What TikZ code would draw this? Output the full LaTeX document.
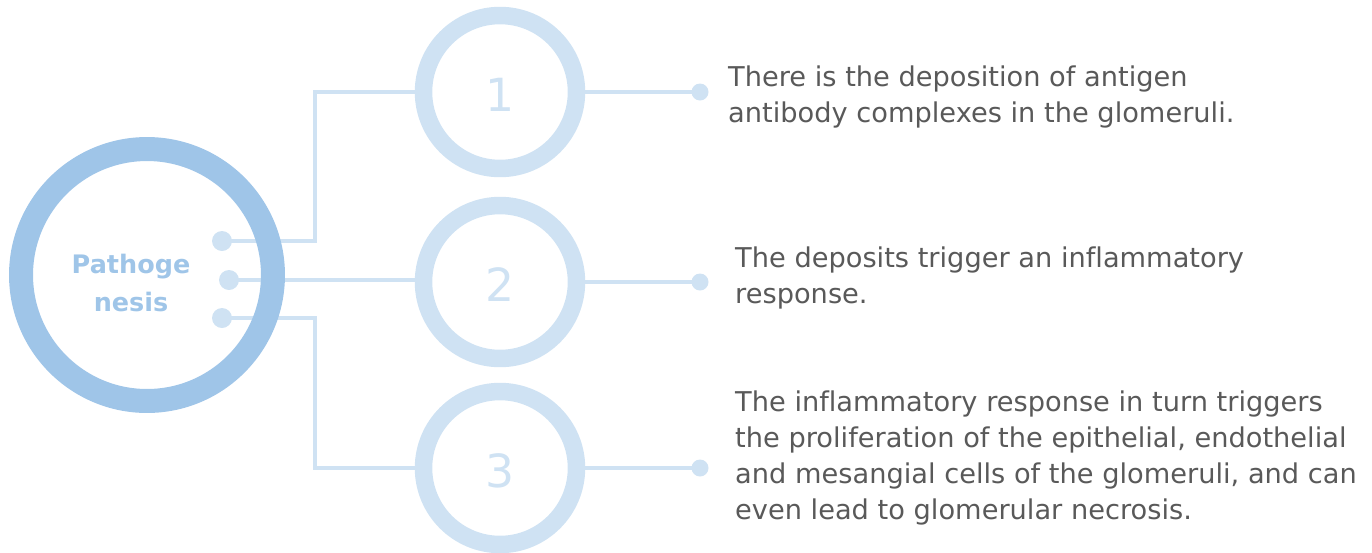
\documentclass[tikz,border=0pt]{standalone}
\usepackage{fontspec}
\setmainfont[Ligatures=NoCommon]{DejaVu Sans}
\usetikzlibrary{%
    backgrounds,%
    calc,%
    positioning%
}
\definecolor{ringblue}{HTML}{9FC5E8}
\definecolor{paleblue}{HTML}{CFE2F3}
\definecolor{textgray}{HTML}{595959}

\begin{document}
\begin{tikzpicture}[x=0.02cm,y=-0.02cm,
    corering/.style={circle,draw=ringblue,line width=0.48cm,minimum size=5.04cm,inner sep=0pt},
    corename/.style={font=\bfseries\fontsize{14.5}{22}\selectfont,text=ringblue,align=center},
    numring/.style={circle,draw=paleblue,line width=0.35cm,minimum size=3.06cm,inner sep=0pt,
        font=\fontsize{26}{30}\selectfont,text=paleblue},
    bigdot/.style={circle,fill=paleblue,minimum size=0.4cm,inner sep=0pt},
    smalldot/.style={circle,fill=paleblue,minimum size=0.34cm,inner sep=0pt},
    link/.style={draw=paleblue,line width=0.08cm},
    desc/.style={anchor=west,align=left,text=textgray,font=\fontsize{15.5}{20.4}\selectfont}
    ]
    \useasboundingbox (0,0) rectangle (1372,552);

    % Central ring
    \node[corering] (core) at (147,275) {};
    \node[corename] (corelabel) at (131,283) {Pathoge\\nesis};

    % Numbered rings
    \foreach \i/\y in {1/92,2/282,3/468}%
    {%
        \node[numring] (num\i) at (500,\y) {};
        \node[text=paleblue,font=\fontsize{26}{30}\selectfont] (numtxt\i) at (500,\y+3) {\i};
        \node[smalldot] (rdot\i) at (700,\y) {};
    }

    % Dots inside the central ring
    \node[bigdot] (ldot1) at (222,241) {};
    \node[bigdot] (ldot2) at (229,280) {};
    \node[bigdot] (ldot3) at (222,318) {};
    \coordinate (bend1) at (315,241);
    \coordinate (bend3) at (315,318);

    % Connectors behind the rings
    \begin{scope}[on background layer]
    \draw[link] (ldot1.center) -- (bend1) |- (num1.west);
    \draw[link] (ldot2.center) -- (ldot2.center -| num2.west);
    \draw[link] (ldot3.center) -- (bend3) |- (num3.west);
    \foreach \i in {1,2,3}%
    {%
        \draw[link] (num\i.east) -- (rdot\i.center);
    }
    \end{scope}

    % Descriptions
    \node[desc] (txt1) at (722,97) {There is the deposition of antigen\\antibody complexes in the glomeruli.};
    \node[desc] (txt2) at (729,278) {The deposits trigger an inflammatory\\response.};
    \node[desc] (txt3) at (729,458) {The inflammatory response in turn triggers\\the proliferation of the epithelial, endothelial\\and mesangial cells of the glomeruli, and can\\even lead to glomerular necrosis.};

\end{tikzpicture}
\end{document}
